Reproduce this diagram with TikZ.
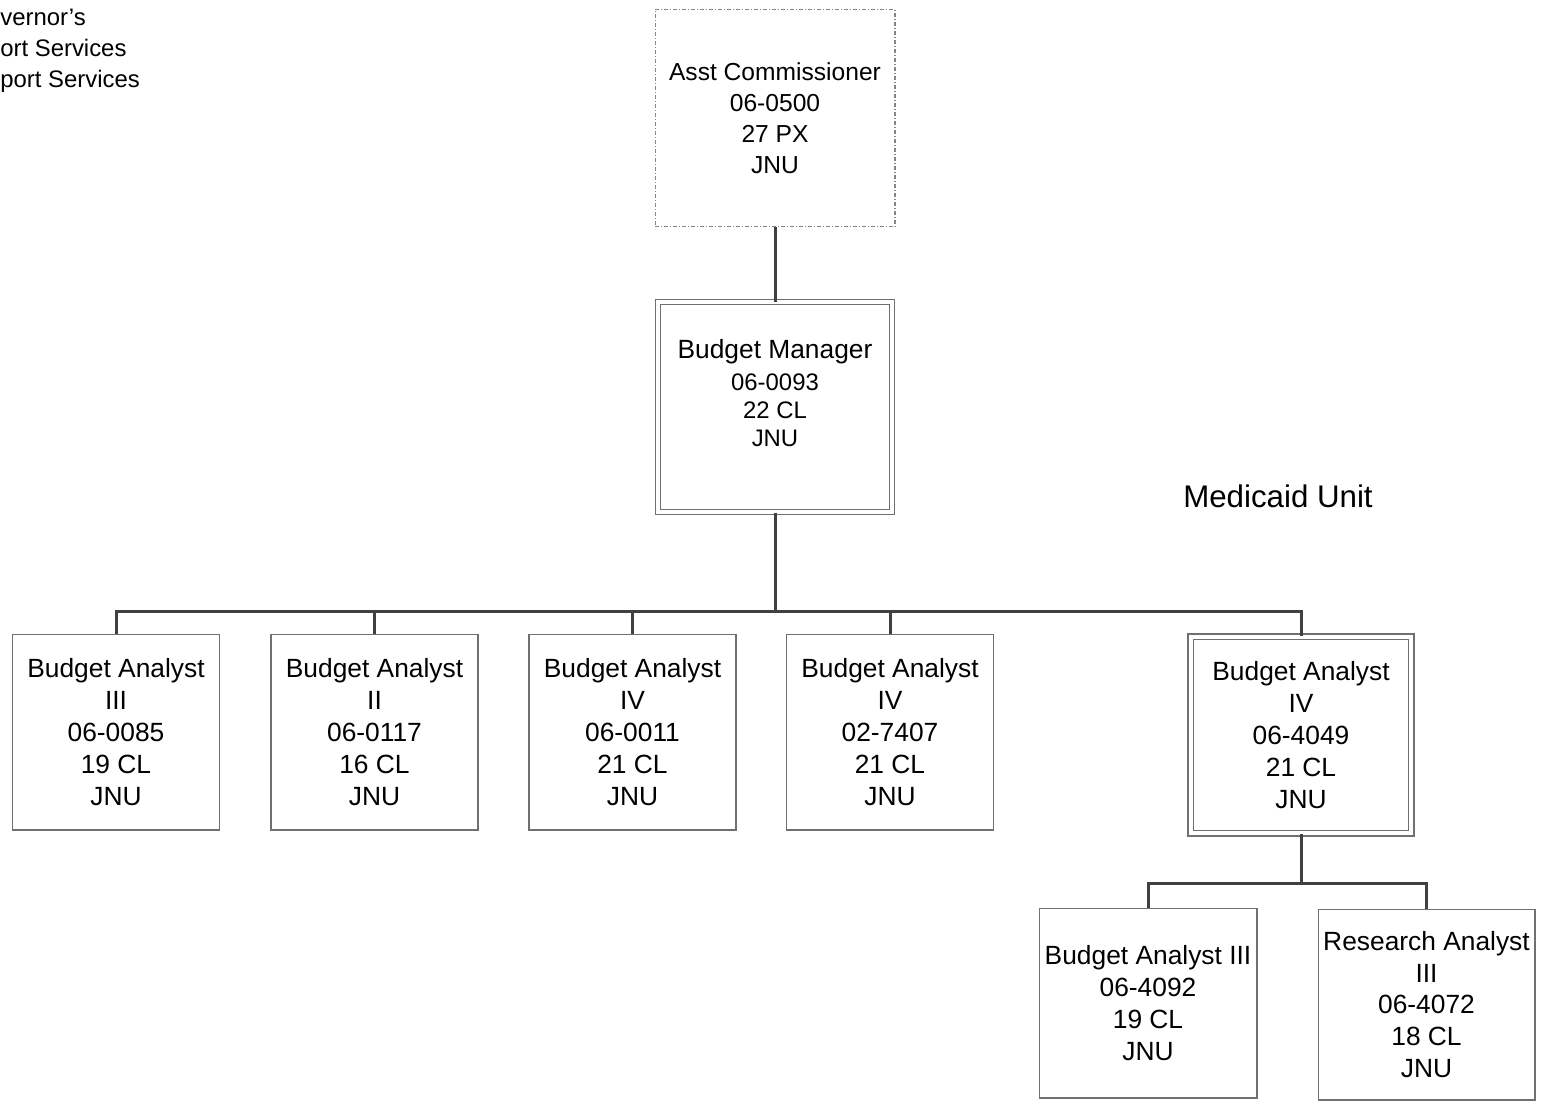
\documentclass[tikz,border=0pt]{standalone}
\usepackage{fontspec}
\setmainfont{Liberation Sans}
\definecolor{linegray}{HTML}{404040}
\definecolor{boxgray}{HTML}{707070}

\begin{document}
\begin{tikzpicture}[x=0.02cm, y=-0.02cm,
    post/.style={rectangle, draw=boxgray, line width=0.6pt, fill=white, align=center, inner sep=0pt,
                 font=\fontsize{15pt}{18.1pt}\selectfont},
    dblpost/.style={post, double=white, double distance=0.08cm},
    conn/.style={draw=linegray, line width=0.06cm}]
    \useasboundingbox (0,0) rectangle (1545,1100);

    % Header text (cut off at the page edge)
    \node[anchor=base west, align=left, inner sep=0pt, font=\fontsize{13.6pt}{17.6pt}\selectfont] (office) at (0,87) {vernor's\\ort Services\\port Services};
    \node[anchor=base, inner sep=0pt, font=\fontsize{17.8pt}{21pt}\selectfont] (unit) at (1278,507) {Medicaid Unit};

    % Positions
    \node[post, draw=boxgray!85, dash pattern=on 0.08cm off 0.04cm on 0.02cm off 0.04cm, minimum width=4.8cm, minimum height=4.34cm,
          font=\fontsize{14pt}{17.6pt}\selectfont] (asst) at (775,118) {Asst Commissioner\\06-0500\\27 PX\\JNU};
    \node[dblpost, minimum width=4.68cm, minimum height=4.2cm, font=\fontsize{13.6pt}{15.9pt}\selectfont] (mgr) at (775,407)
        {{\fontsize{15pt}{18pt}\selectfont Budget Manager}\\[2.2pt]06-0093\\22 CL\\JNU\\\mbox{}};
    \node[post, minimum width=4.14cm, minimum height=3.92cm] (ba1) at (116,732) {Budget Analyst\\III\\06-0085\\19 CL\\JNU};
    \node[post, minimum width=4.14cm, minimum height=3.92cm] (ba2) at (374.5,732) {Budget Analyst\\II\\06-0117\\16 CL\\JNU};
    \node[post, minimum width=4.14cm, minimum height=3.92cm] (ba3) at (632.5,732) {Budget Analyst\\IV\\06-0011\\21 CL\\JNU};
    \node[post, minimum width=4.14cm, minimum height=3.92cm] (ba4) at (890,732) {Budget Analyst\\IV\\02-7407\\21 CL\\JNU};
    \node[dblpost, minimum width=4.42cm, minimum height=3.94cm] (ba5) at (1301,735) {Budget Analyst\\IV\\06-4049\\21 CL\\JNU};
    \node[post, minimum width=4.36cm, minimum height=3.8cm] (ba6) at (1148,1003) {Budget Analyst III\\06-4092\\19 CL\\JNU};
    \node[post, minimum width=4.34cm, minimum height=3.82cm] (ra) at (1426.5,1004.5) {Research Analyst\\III\\06-4072\\18 CL\\JNU};

    % Reporting lines
    \coordinate (bus) at (775,611);
    \coordinate (bus2) at (1301,883);
    \draw[conn] (asst) -- (mgr);
    \draw[conn] (mgr) -- (bus);
    \foreach \c in {ba1,ba2,ba3,ba4,ba5}
        \draw[conn] (\c.north) |- (bus);
    \draw[conn] (ba5) -- (bus2);
    \foreach \c in {ba6,ra}
        \draw[conn] (\c.north) |- (bus2);
\end{tikzpicture}
\end{document}
